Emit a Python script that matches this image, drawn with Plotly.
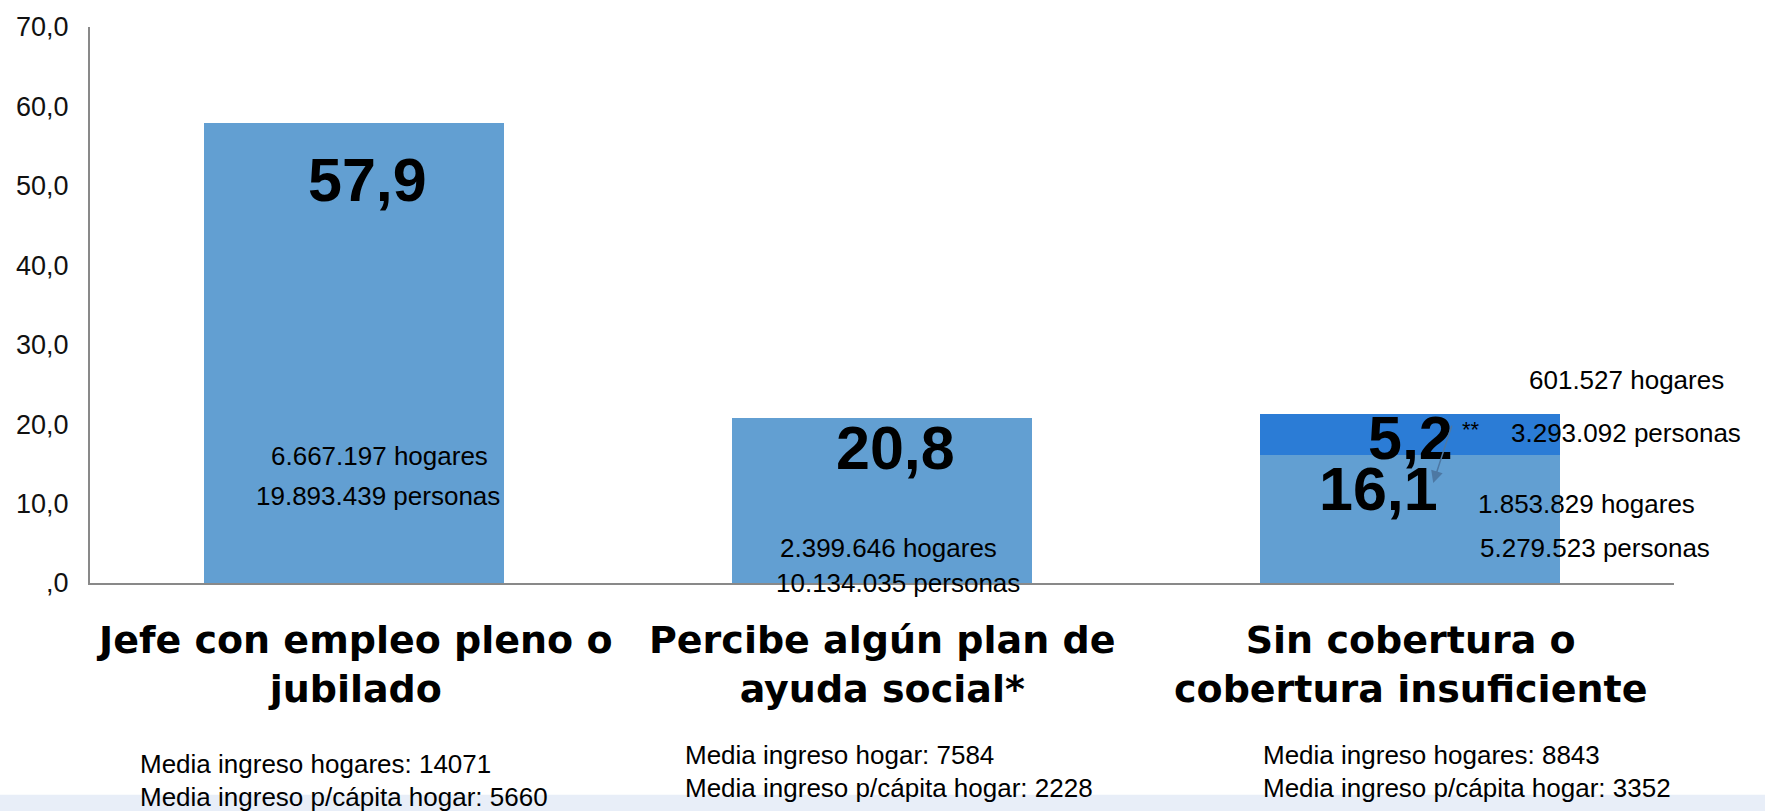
import plotly.graph_objects as go

# data
categories = ["Jefe con empleo pleno o jubilado",
              "Percibe algún plan de ayuda social*",
              "Sin cobertura o cobertura insuficiente"]
category_lines = [["Jefe con empleo pleno o", "jubilado"],
                  ["Percibe algún plan de", "ayuda social*"],
                  ["Sin cobertura o", "cobertura insuficiente"]]
base_values = [57.9, 20.8, 16.1]
extra_values = [None, None, 5.2]
base_labels = ["57,9", "20,8", "16,1"]
extra_label = "5,2"
y_ticks = [0, 10, 20, 30, 40, 50, 60, 70]
y_ticktext = [",0", "10,0", "20,0", "30,0", "40,0", "50,0", "60,0", "70,0"]
hogares = ["6.667.197 hogares", "2.399.646 hogares", "1.853.829 hogares"]
personas = ["19.893.439 personas", "10.134.035 personas", "5.279.523 personas"]
extra_hogares = "601.527 hogares"
extra_personas = "3.293.092 personas"
notes = [["Media ingreso hogares: 14071", "Media ingreso p/cápita hogar: 5660"],
         ["Media ingreso hogar: 7584", "Media ingreso p/cápita hogar: 2228"],
         ["Media ingreso hogares: 8843", "Media ingreso p/cápita hogar: 3352"]]

LIGHT = "#629fd2"
DARK = "#2b7cd6"
AXIS = "#898989"
TXT = "Liberation Sans, Arial, sans-serif"
BIG = "Liberation Sans, Arial, sans-serif"
CAT = "DejaVu Sans, sans-serif"

fig = go.Figure()
fig.add_trace(go.Bar(x=categories, y=base_values, marker=dict(color=LIGHT, line=dict(width=0)),
                     showlegend=False, hoverinfo="skip"))
fig.add_trace(go.Bar(x=categories, y=extra_values, marker=dict(color=DARK, line=dict(width=0)),
                     showlegend=False, hoverinfo="skip"))

ann = []
# big value labels
big_pos = [(0.025, 50.8), (1.025, 17.0), (1.94, 11.8)]
for (x, y), t in zip(big_pos, base_labels):
    ann.append(dict(x=x, y=y, text="<b>%s</b>" % t, showarrow=False,
                    font=dict(family=BIG, size=61, color="black")))
ann.append(dict(x=2.0, y=18.3, text="<b>%s</b>" % extra_label, showarrow=False,
                font=dict(family=BIG, size=61, color="black")))
ann.append(dict(x=2.116, y=19.3, text="**", showarrow=False,
                font=dict(family=TXT, size=22, color="black")))
# small arrow from 5,2 to 16,1
ann.append(dict(x=2.044, y=12.6, ax=2.08, ay=20.0, xref="x", yref="y", axref="x", ayref="y",
                text="", showarrow=True, arrowhead=2, arrowsize=1.6, arrowwidth=1.5,
                arrowcolor="#4d78a3"))

# hogares / personas annotations
hog_pos = [(0.049, 16.0), (1.013, 4.4), (2.334, 10.0)]
per_pos = [(0.046, 11.0), (1.03, 0.0), (2.35, 4.4)]
for (x, y), t in zip(hog_pos, hogares):
    ann.append(dict(x=x, y=y, text=t, showarrow=False, font=dict(family=TXT, size=26, color="black")))
for (x, y), t in zip(per_pos, personas):
    ann.append(dict(x=x, y=y, text=t, showarrow=False, font=dict(family=TXT, size=26, color="black")))
ann.append(dict(x=2.41, y=25.5, text=extra_hogares, showarrow=False,
                font=dict(family=TXT, size=26, color="black")))
ann.append(dict(x=2.41, y=18.9, text=extra_personas, showarrow=False,
                font=dict(family=TXT, size=26, color="black")))

# category labels under the axis
for i, lines in enumerate(category_lines):
    ann.append(dict(x=i, y=-0.146, xref="x", yref="paper", text="<b>%s</b>" % "<br>".join(lines),
                    showarrow=False, yanchor="middle",
                    font=dict(family=CAT, size=38, color="black")))

# income notes
note_x = [-0.41, 0.623, 1.717]
note_y = [(-0.326, -0.385), (-0.310, -0.369), (-0.310, -0.369)]
for i, lines in enumerate(notes):
    for t, y in zip(lines, note_y[i]):
        ann.append(dict(x=note_x[i], y=y, xref="x", yref="paper", text=t, showarrow=False,
                        xanchor="left", yanchor="middle",
                        font=dict(family=TXT, size=26, color="black")))

fig.update_layout(
    width=1765, height=811,
    margin=dict(l=90, r=91, t=22, b=228),
    barmode="stack",
    bargap=0.43,
    plot_bgcolor="white",
    paper_bgcolor="white",
    annotations=ann,
    shapes=[dict(type="rect", xref="paper", yref="paper", x0=-0.1, x1=1.1,
                 y0=-0.41, y1=-0.381, fillcolor="#e8eef8", line=dict(width=0), layer="below")],
    xaxis=dict(showline=True, linecolor=AXIS, linewidth=2, showgrid=False,
               showticklabels=False, ticks="", range=[-0.5, 2.5], zeroline=False),
    yaxis=dict(showline=True, linecolor=AXIS, linewidth=2, showgrid=False, zeroline=False,
               range=[0, 70], tickvals=y_ticks, ticktext=y_ticktext, ticks="",
               ticklabelstandoff=14,
               tickfont=dict(family=TXT, size=27, color="#111")),
)

# the page body has a default margin; drop it so the figure sits at the window's corner
fig.write_html("out.html", config={"displayModeBar": False},
               post_script="document.body.style.margin='0px';document.body.style.overflow='hidden';")
